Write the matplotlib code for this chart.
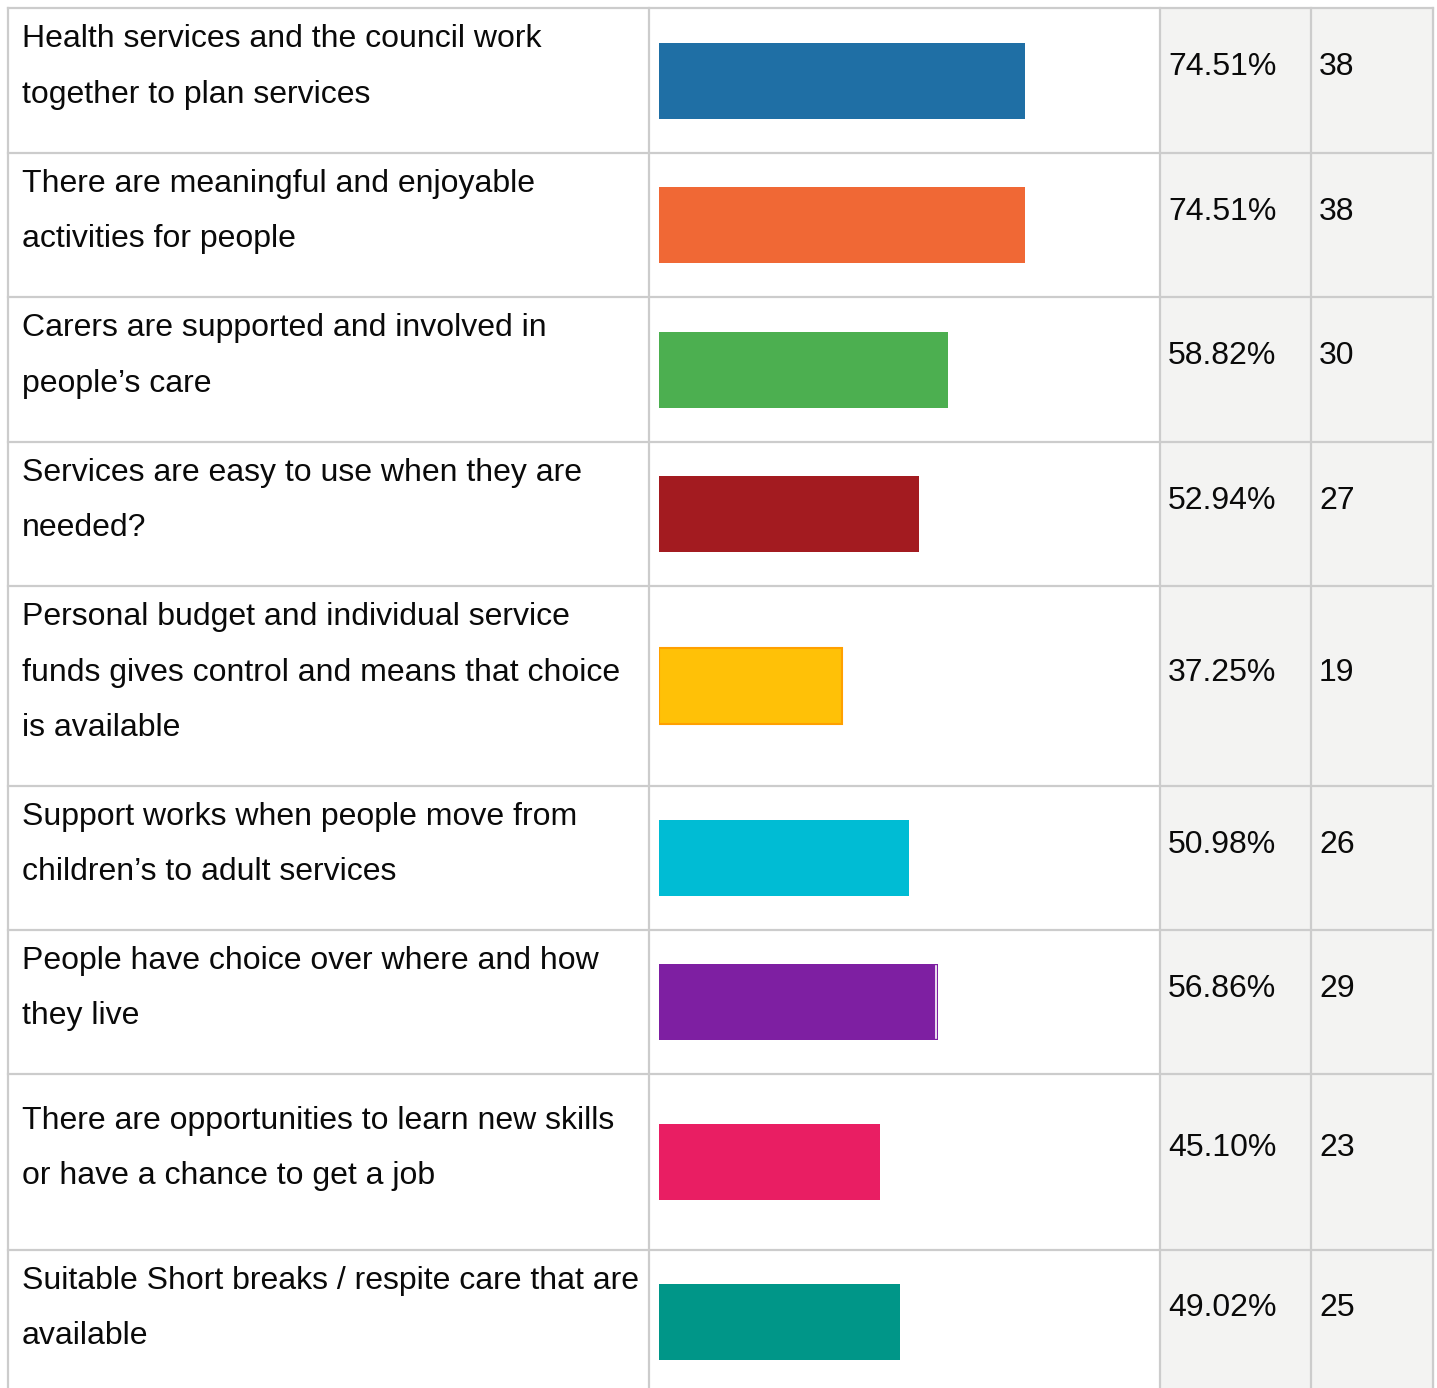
import matplotlib
matplotlib.use("Agg")
import matplotlib.pyplot as plt
import numpy as np

plt.rcParams["font.family"] = ["Liberation Sans", "DejaVu Sans"]

# data
labels = [
    "Health services and the council work\ntogether to plan services",
    "There are meaningful and enjoyable\nactivities for people",
    "Carers are supported and involved in\npeople\u2019s care",
    "Services are easy to use when they are\nneeded?",
    "Personal budget and individual service\nfunds gives control and means that choice\nis available",
    "Support works when people move from\nchildren\u2019s to adult services",
    "People have choice over where and how\nthey live",
    "There are opportunities to learn new skills\nor have a chance to get a job",
    "Suitable Short breaks / respite care that are\navailable",
]
percents = [74.51, 74.51, 58.82, 52.94, 37.25, 50.98, 56.86, 45.10, 49.02]
counts = [38, 38, 30, 27, 19, 26, 29, 23, 25]
colors = ["#1f6fa5", "#f06835", "#4caf50", "#a31b20", "#ffc107",
          "#00bcd4", "#7e1fa2", "#e91e63", "#009688"]

# layout (pixels)
W, H = 1437, 1388
row_heights = [145, 144, 145, 144, 200, 144, 144, 176, 144]
top = 8
col_x = [8, 649, 1160, 1311, 1433]
bar_x0, bar_span = 659, 491   # 0..100 %
line_gap = 55.5
grid_c = "#cccccc"
fs = 23
txt_c = "#0a0a0a"

edges = top + np.concatenate([[0], np.cumsum(row_heights)])
centers = (edges[:-1] + edges[1:]) / 2

fig = plt.figure(figsize=(W / 100, H / 100), dpi=100)
ax = fig.add_axes([0, 0, 1, 1])
ax.set_xlim(0, W)
ax.set_ylim(H, 0)
ax.axis("off")

# gray value columns
ax.axvspan(col_x[2], col_x[4], ymin=0, ymax=1 - top / H, color="#f3f3f2", zorder=0)

# grid lines
for y in edges[:-1]:
    ax.plot([col_x[0], col_x[4]], [y, y], color=grid_c, lw=1.6, zorder=1)
for x in col_x:
    ax.plot([x, x], [top, H], color=grid_c, lw=1.6, zorder=1)

# texts
for i, c in enumerate(centers):
    mid = c - 16.5
    lines = labels[i].split("\n")
    n = len(lines)
    for j, ln in enumerate(lines):
        yc = mid + (j - (n - 1) / 2) * line_gap
        ax.text(22, yc + 11, ln, fontsize=fs, va="baseline", ha="left", color=txt_c)
    ax.text(1168, mid + 11, f"{percents[i]:.2f}%", fontsize=fs, va="baseline", ha="left", color=txt_c)
    ax.text(1319, mid + 11, str(counts[i]), fontsize=fs, va="baseline", ha="left", color=txt_c)

# bars
bax = fig.add_axes([bar_x0 / W, 0, bar_span / W, 1])
bax.set_xlim(0, 100)
bax.set_ylim(H, 0)
bax.axis("off")
bax.patch.set_alpha(0)
bars = bax.barh(centers, percents, height=76, color=colors, zorder=2)
bars[4].set_edgecolor("#ffa000")
bars[4].set_linewidth(1.5)
# thin light seam near the end of the purple bar
bax.plot([percents[6] - 0.35] * 2, [centers[6] - 36, centers[6] + 36],
         color="white", lw=1.2, zorder=3)

fig.savefig("out.png", dpi=100)
